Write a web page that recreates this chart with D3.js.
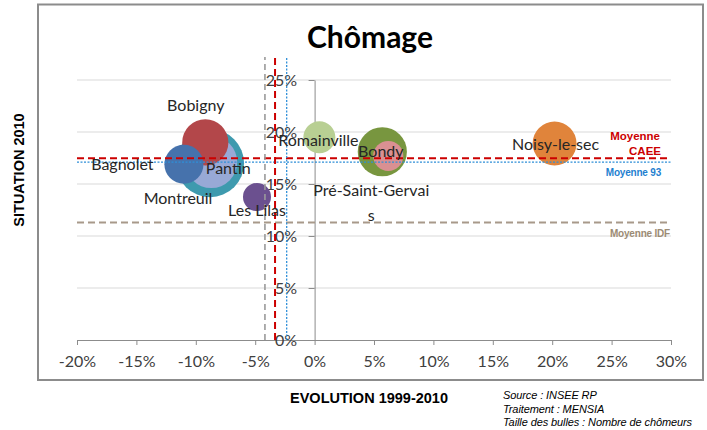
<!DOCTYPE html>
<html><head><meta charset="utf-8">
<script src="https://cdn.jsdelivr.net/npm/d3@7"></script>
<style>body{margin:0;background:#fff}</style>
</head><body><svg id="c" width="707" height="430"></svg>
<script>
// ---- data ----
const communes   = ["Montreuil","Pantin","Bondy","Bobigny","Noisy-le-sec","Bagnolet","Romainville","Pré-Saint-Gervais","Les Lilas"];
const evolution  = [-8.8, -8.7, 5.7, -9.2, 20.2, -11.0, 0.4, 6.2, -4.85];   // % 1999-2010
const situation  = [17.0, 17.1, 18.1, 19.0, 18.9, 16.9, 19.5, 17.7, 13.75]; // % 2010
const chomeurs   = [11500, 6700, 6000, 5300, 4800, 3800, 2550, 2250, 1950]; // bubble size
const xTicks = [-20,-15,-10,-5,0,5,10,15,20,25,30];
const yTicks = [0,5,10,15,20,25];
const refNames     = ["Moyenne CAEE","Moyenne 93","Moyenne IDF"];
const refEvolution = [-3.33, -2.35, -4.18];
const refSituation = [17.47, 17.1, 11.3];

// ---- styles / layout ----
const bubbleColors = {"Montreuil":"#3e9aae","Pantin":"#98a9d6","Bondy":"#78963f","Bobigny":"#b3474a",
  "Noisy-le-sec":"#e0843b","Bagnolet":"#4672ac","Romainville":"#b8cf93","Pré-Saint-Gervais":"#da9092","Les Lilas":"#6b508f"};
const labelOffsets = {"Montreuil":[-32,37],"Pantin":[17,8],"Bondy":[-1.5,1],"Bobigny":[-9.5,-35],
  "Noisy-le-sec":[1,2.5],"Bagnolet":[-61.5,1.5],"Romainville":[-1,4.5],"Pré-Saint-Gervais":[-17,36],"Les Lilas":[0,15]};
const labelWrap = {"Pré-Saint-Gervais":16};
const refH = [{c:"#cc0000",w:2,d:"7,4"},{c:"#2f8fd8",w:1.3,d:"2,1.5"},{c:"#a8998a",w:2,d:"7,4"}];
const refV = [{c:"#cc0000",w:2,d:"7,4"},{c:"#2f8fd8",w:1.3,d:"2,1.5"},{c:"#9a9a9a",w:1.6,d:"6,4"}];

const svg = d3.select("#c");
const font = "Lato, 'Open Sans', sans-serif";
const x = d3.scaleLinear().domain([-20,30]).range([77,671]);
const y = d3.scaleLinear().domain([0,25]).range([340,80]);
const r = d3.scaleSqrt().domain([0, d3.max(chomeurs)]).range([0,34]);

// frame
svg.append("rect").attr("x",38).attr("y",4.5).attr("width",665).attr("height",375.5)
  .attr("fill","#fff").attr("stroke","#8c8c8c").attr("stroke-width",2);

// title
svg.append("text").attr("x",370).attr("y",48).attr("text-anchor","middle")
  .attr("font-family",font).attr("font-weight","bold").attr("font-size",30).attr("fill","#000").text("Chômage");

// gridlines
svg.append("g").selectAll("line").data(yTicks.filter(d=>d>0)).join("line")
  .attr("x1",x(-20)).attr("x2",x(30)).attr("y1",d=>y(d)).attr("y2",d=>y(d))
  .attr("stroke","#d9d9d9").attr("stroke-width",1);

// x axis
const gx = svg.append("g").attr("transform",`translate(0,${y(0)})`)
  .call(d3.axisBottom(x).tickValues(xTicks).tickFormat(d=>d+"%").tickSize(5).tickSizeOuter(0).tickPadding(11));
gx.select(".domain").attr("stroke","#8c8c8c");
gx.selectAll(".tick line").attr("stroke","#8c8c8c");
gx.selectAll("text").attr("font-family",font).attr("font-size",16).attr("fill","#404040");

// y axis
const gy = svg.append("g").attr("transform",`translate(${x(0)},0)`)
  .call(d3.axisLeft(y).tickValues(yTicks).tickFormat(d=>d+"%").tickSize(6).tickSizeOuter(0).tickPadding(11.5));
gy.select(".domain").attr("stroke","#8c8c8c");
gy.selectAll(".tick line").attr("stroke","#8c8c8c");
gy.selectAll("text").attr("font-family",font).attr("font-size",16).attr("fill","#404040");

// bubbles (largest first)
const pts = communes.map((n,i)=>({n, ex:evolution[i], s:situation[i], v:chomeurs[i]}))
  .sort((a,b)=>b.v-a.v);
svg.append("g").selectAll("circle").data(pts).join("circle")
  .attr("cx",d=>x(d.ex)).attr("cy",d=>y(d.s)).attr("r",d=>r(d.v))
  .attr("fill",d=>bubbleColors[d.n]);

// reference lines
refSituation.forEach((v,i)=>{
  svg.append("line").attr("x1",x(-20)).attr("x2",x(30)).attr("y1",y(v)).attr("y2",y(v))
    .attr("stroke",refH[i].c).attr("stroke-width",refH[i].w).attr("stroke-dasharray",refH[i].d);
});
refEvolution.forEach((v,i)=>{
  svg.append("line").attr("x1",x(v)).attr("x2",x(v)).attr("y1",y(0)).attr("y2",y(27.2))
    .attr("stroke",refV[i].c).attr("stroke-width",refV[i].w).attr("stroke-dasharray",refV[i].d);
});

// reference labels
const refLab = svg.append("g").attr("font-family","Arial, 'Liberation Sans', sans-serif").attr("font-weight","bold").attr("text-anchor","end");
refLab.append("text").attr("x",660).attr("y",y(refSituation[0])-18).attr("font-size",11.5).attr("fill","#cc0000").text(refNames[0].split(" ")[0]);
refLab.append("text").attr("x",661).attr("y",y(refSituation[0])-3).attr("font-size",11.5).attr("fill","#cc0000").text(refNames[0].split(" ")[1]);
refLab.append("text").attr("x",661).attr("y",y(refSituation[1])+14).attr("font-size",10).attr("fill","#1f7fd0").attr("letter-spacing",-0.2).text(refNames[1]);
refLab.append("text").attr("x",670).attr("y",y(refSituation[2])+15).attr("font-size",10).attr("fill","#9c8b74").attr("letter-spacing",-0.2).text(refNames[2]);

// data labels
const lg = svg.append("g").attr("font-family",font).attr("font-size",16).attr("fill","#262626").attr("text-anchor","middle");
pts.forEach(d=>{
  const [dx,dy] = labelOffsets[d.n];
  const w = labelWrap[d.n];
  const lines = w ? [d.n.slice(0,w), d.n.slice(w)] : [d.n];
  const t = lg.append("text").attr("x",x(d.ex)+dx).attr("y",y(d.s)+dy).attr("dominant-baseline","middle");
  lines.forEach((l,k)=>t.append("tspan").attr("x",x(d.ex)+dx).attr("dy",k===0?0:25).text(l));
});

// axis titles
const af = "Arial, 'Liberation Sans', sans-serif";
svg.append("text").attr("transform","translate(24,170) rotate(-90)").attr("text-anchor","middle")
  .attr("font-family",af).attr("font-weight","bold").attr("font-size",14.5).attr("fill","#000").text("SITUATION 2010");
svg.append("text").attr("x",369).attr("y",403).attr("text-anchor","middle")
  .attr("font-family",af).attr("font-weight","bold").attr("font-size",14.5).attr("fill","#000").text("EVOLUTION 1999-2010");

// source
const src = ["Source : INSEE RP","Traitement : MENSIA","Taille des bulles : Nombre de chômeurs"];
svg.append("g").selectAll("text").data(src).join("text")
  .attr("x",503).attr("y",(d,i)=>399+i*13.5).attr("font-family",af).attr("font-style","italic")
  .attr("font-size",11).attr("fill","#000").attr("letter-spacing",-0.1).text(d=>d);
</script></body></html>
